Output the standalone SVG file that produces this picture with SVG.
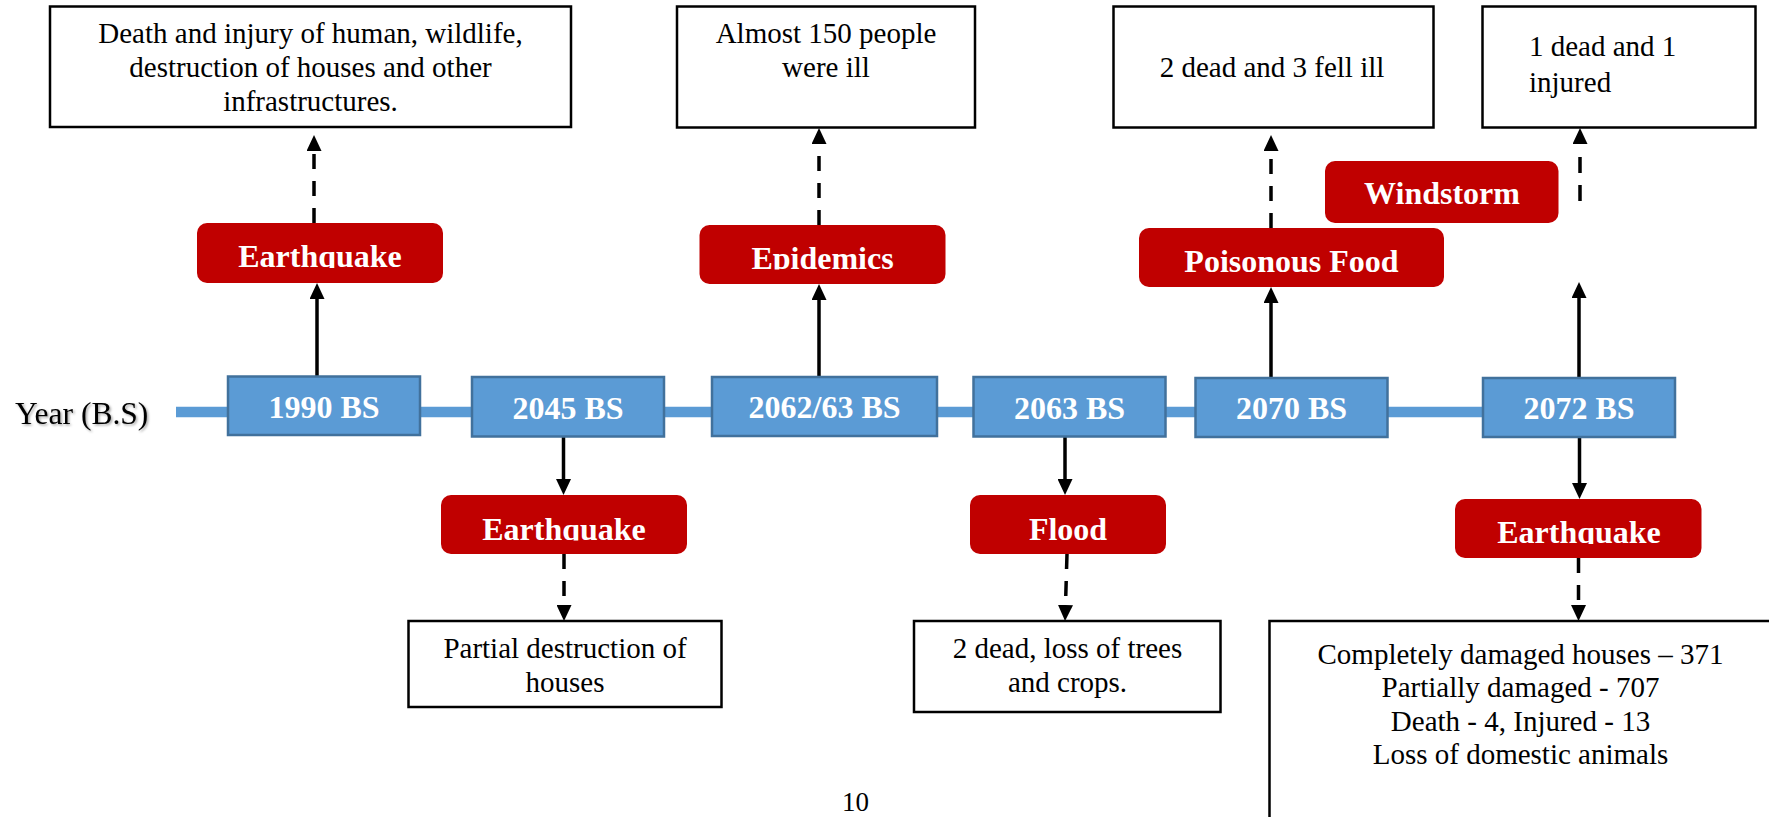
<svg xmlns="http://www.w3.org/2000/svg" width="1769" height="817" viewBox="0 0 1769 817">
  <style>
    .note { fill: #ffffff; stroke: #000000; stroke-width: 2.5; }
    .yr { fill: #5B9BD5; stroke: #41719C; stroke-width: 2.5; }
    .ev { fill: #C00000; }
    .t { font-family: "Liberation Serif", "Times New Roman", serif; font-size: 29px; fill: #000000; text-anchor: middle; }
    .tl { text-anchor: start; }
    .b { font-family: "Liberation Serif", "Times New Roman", serif; font-weight: bold; font-size: 32px; fill: #ffffff; text-anchor: middle; }
    .solid { stroke: #000000; stroke-width: 3.5; fill: none; marker-end: url(#ah); }
    .dash { stroke: #000000; stroke-width: 3.5; fill: none; stroke-dasharray: 15 12; marker-end: url(#ah); }
    .axis { stroke: #5B9BD5; stroke-width: 10.5; fill: none; }
  </style>
  <defs>
    <marker id="ah" viewBox="0 0 16 15" refX="0" refY="7.5" markerWidth="16" markerHeight="15" markerUnits="userSpaceOnUse" orient="auto">
      <path d="M0,0 L16,7.5 L0,15 z" fill="#000000"/>
    </marker>
    <filter id="shadow" x="-10%" y="-20%" width="130%" height="150%">
      <feDropShadow dx="1.5" dy="1.5" stdDeviation="1" flood-color="#000000" flood-opacity="0.35"/>
    </filter>
    <!-- label areas of the event boxes (text is cut at its baseline) -->
    <clipPath id="c-eq1" clipPathUnits="userSpaceOnUse"><rect x="197" y="223" width="246" height="45"/></clipPath>
    <clipPath id="c-epi" clipPathUnits="userSpaceOnUse"><rect x="699" y="225" width="247" height="44.5"/></clipPath>
    <clipPath id="c-poi" clipPathUnits="userSpaceOnUse"><rect x="1139" y="228" width="305" height="45"/></clipPath>
    <clipPath id="c-eq2" clipPathUnits="userSpaceOnUse"><rect x="441" y="495" width="246" height="45.5"/></clipPath>
    <clipPath id="c-fld" clipPathUnits="userSpaceOnUse"><rect x="970" y="495" width="196" height="45.5"/></clipPath>
    <clipPath id="c-eq3" clipPathUnits="userSpaceOnUse"><rect x="1455" y="499" width="247" height="45"/></clipPath>
  </defs>

  <rect x="0" y="0" width="1769" height="817" fill="#ffffff"/>

  <!-- timeline axis -->
  <g id="axis">
    <text x="15" y="423.5" class="t" style="text-anchor:start; font-size:31.5px" filter="url(#shadow)">Year (B.S)</text>
    <line x1="176" y1="412" x2="1484" y2="412" class="axis"/>
  </g>

  <!-- connectors -->
  <g id="connectors">
    <path class="solid" d="M317,376 L317,299"/>
    <path class="dash" d="M314,223 L314,151"/>
    <path class="solid" d="M563.5,437 L563.5,479"/>
    <path class="dash" d="M564,554 L564,605"/>
    <path class="solid" d="M819,377 L819,300"/>
    <path class="dash" d="M819,225 L819,144"/>
    <path class="solid" d="M1065,437 L1065,479"/>
    <path class="dash" d="M1067,554 L1065.5,605"/>
    <path class="solid" d="M1271,378 L1271,303"/>
    <path class="dash" d="M1271,228 L1271,151"/>
    <path class="solid" d="M1579,378 L1579,298"/>
    <path class="dash" style="stroke-dasharray:16 12 16 30" d="M1580,201 L1580,144"/>
    <path class="solid" d="M1579.5,437 L1579.5,483"/>
    <path class="dash" d="M1578.5,558 L1578.5,605"/>
  </g>

  <!-- year boxes -->
  <g id="y1990"><rect class="yr" x="228" y="376.5" width="192" height="58.5"/><text class="b" x="324" y="418">1990 BS</text></g>
  <g id="y2045"><rect class="yr" x="472" y="377" width="192" height="59.5"/><text class="b" x="568" y="419">2045 BS</text></g>
  <g id="y2062"><rect class="yr" x="712" y="377" width="225" height="59"/><text class="b" x="824.5" y="418">2062/63 BS</text></g>
  <g id="y2063"><rect class="yr" x="973.5" y="377" width="192" height="59.5"/><text class="b" x="1069.5" y="418.5">2063 BS</text></g>
  <g id="y2070"><rect class="yr" x="1195.5" y="378" width="192" height="59"/><text class="b" x="1291.5" y="419">2070 BS</text></g>
  <g id="y2072"><rect class="yr" x="1483" y="378" width="192" height="59"/><text class="b" x="1579" y="419">2072 BS</text></g>

  <!-- event boxes -->
  <g id="ev-earthquake-1990"><rect class="ev" x="197" y="223" width="246" height="60" rx="10"/><text class="b" x="320" y="267" clip-path="url(#c-eq1)">Earthquake</text></g>
  <g id="ev-epidemics"><rect class="ev" x="699.5" y="225" width="246" height="59" rx="10"/><text class="b" x="822.5" y="268.5" clip-path="url(#c-epi)">Epidemics</text></g>
  <g id="ev-poison"><rect class="ev" x="1139" y="228" width="305" height="59" rx="10"/><text class="b" x="1291.5" y="272" clip-path="url(#c-poi)">Poisonous Food</text></g>
  <g id="ev-windstorm"><rect class="ev" x="1325" y="161" width="233.5" height="62" rx="10"/><text class="b" x="1442" y="204">Windstorm</text></g>
  <g id="ev-earthquake-2045"><rect class="ev" x="441" y="495" width="246" height="59" rx="10"/><text class="b" x="564" y="539.5" clip-path="url(#c-eq2)">Earthquake</text></g>
  <g id="ev-flood"><rect class="ev" x="970" y="495" width="196" height="59" rx="10"/><text class="b" x="1068" y="539.5" clip-path="url(#c-fld)">Flood</text></g>
  <g id="ev-earthquake-2072"><rect class="ev" x="1455" y="499" width="246.5" height="59" rx="10"/><text class="b" x="1579" y="543" clip-path="url(#c-eq3)">Earthquake</text></g>

  <!-- impact notes -->
  <g id="note-1990">
    <rect class="note" x="50" y="6.5" width="521" height="120.5"/>
    <text class="t" x="310.5" y="43">Death and injury of human, wildlife,</text>
    <text class="t" x="310.5" y="77">destruction of houses and other</text>
    <text class="t" x="310.5" y="111">infrastructures.</text>
  </g>
  <g id="note-epidemics">
    <rect class="note" x="677" y="6.5" width="298" height="121"/>
    <text class="t" x="826" y="43">Almost 150 people</text>
    <text class="t" x="826" y="77">were ill</text>
  </g>
  <g id="note-poison">
    <rect class="note" x="1113.5" y="6.5" width="320" height="121"/>
    <text class="t" x="1272" y="77">2 dead and 3 fell ill</text>
  </g>
  <g id="note-windstorm">
    <rect class="note" x="1482.5" y="6.5" width="273" height="121"/>
    <text class="t tl" x="1529" y="56">1 dead and 1</text>
    <text class="t tl" x="1529" y="92">injured</text>
  </g>
  <g id="note-2045">
    <rect class="note" x="408.5" y="621" width="313" height="86"/>
    <text class="t" x="565" y="658">Partial destruction of</text>
    <text class="t" x="565" y="692">houses</text>
  </g>
  <g id="note-flood">
    <rect class="note" x="914" y="621" width="306.5" height="91"/>
    <text class="t" x="1067.5" y="658">2 dead, loss of trees</text>
    <text class="t" x="1067.5" y="692">and crops.</text>
  </g>
  <g id="note-2072">
    <rect class="note" x="1269.5" y="621" width="502" height="210"/>
    <text class="t" x="1520.5" y="663.5">Completely damaged houses – 371</text>
    <text class="t" x="1520.5" y="697">Partially damaged - 707</text>
    <text class="t" x="1520.5" y="730.5">Death - 4, Injured - 13</text>
    <text class="t" x="1520.5" y="764">Loss of domestic animals</text>
  </g>

  <!-- page number -->
  <text class="t" x="855.5" y="811" style="font-size:27px">10</text>
</svg>
